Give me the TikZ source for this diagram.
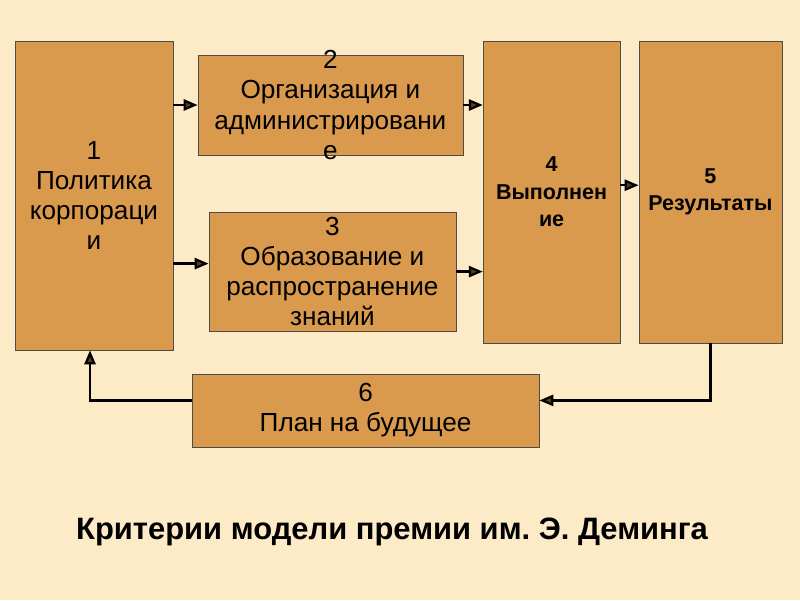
\documentclass[tikz,border=0pt]{standalone}
\usepackage{fontspec}
\setmainfont{Liberation Sans}
\usetikzlibrary{arrows.meta}
\definecolor{paper}{HTML}{FCEBC6}
\definecolor{boxfill}{HTML}{D99A4D}
\frenchspacing
\begin{document}
\begin{tikzpicture}[every node/.style={rectangle,fill=boxfill,draw=black!70,inner sep=0pt,align=center,font=\fontsize{18.6}{21.5}\selectfont},
  bold/.style={font=\bfseries\fontsize{15.3}{19.5}\selectfont},
  link/.style={line width=1.6pt,-{Triangle[length=10pt,width=8pt,fill=boxfill!40!black]}}]
\fill[paper] (0,0) rectangle (20,-15);
\useasboundingbox (0,0) rectangle (20,-15);
\node[minimum width=3.95cm,minimum height=7.725cm] (1) at (2.35,-4.89) {1\\Политика\\корпораци\\и};
\node[inner ysep=-12pt,minimum width=6.625cm,minimum height=2.5cm] (2) at (8.26,-2.625) {2\\Организация и\\администрировани\\е};
\node[inner ysep=-6pt,minimum width=6.175cm,minimum height=2.975cm] (3) at (8.31,-6.79) {3\\Образование и\\распространение\\знаний};
\node[bold,minimum width=3.425cm,minimum height=7.55cm] (4) at (13.79,-4.8) {4\\Выполнен\\ие};
\node[bold,minimum width=3.575cm,minimum height=7.55cm] (5) at (17.76,-4.8) {5\\Результаты};
\node[minimum width=8.675cm,minimum height=1.825cm] (6) at (9.14,-10.26) {6\\План на будущее};
\node[fill=none,draw=none,font=\bfseries\fontsize{22}{24}\selectfont] (title) at (9.8,-13.3) {Критерии модели премии им. Э. Деминга};
\draw[link] (2.west -| 1.east) -- (2.west);
\draw[link] ([yshift=0.2cm]3.west -| 1.east) -- ([yshift=0.2cm]3.west);
\draw[link] (2.east) -- (2.east -| 4.west);
\draw[link] (3.east) -- (3.east -| 4.west);
\draw[link] ([yshift=0.17cm]4.east) -- ([yshift=0.17cm]4.east -| 5.west);
\draw[link] (5.south) |- ([yshift=0.25cm]6.east);
\draw[link] ([yshift=0.25cm]6.west) -| ([xshift=-0.1cm]1.south);
\end{tikzpicture}
\end{document}
